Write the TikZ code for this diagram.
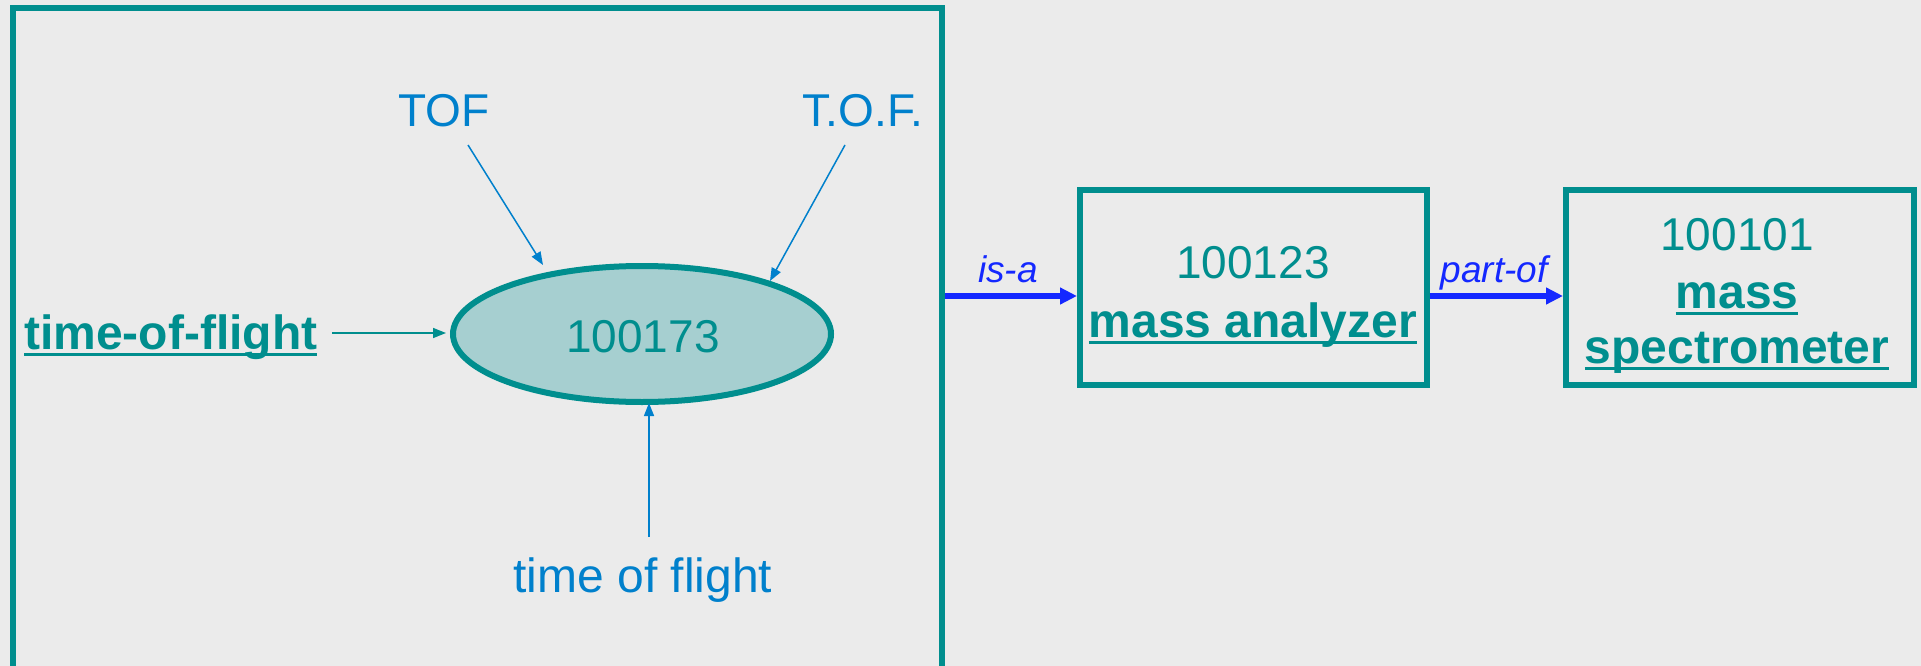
\documentclass[tikz,border=0pt]{standalone}
\usepackage{fontspec}
\setmainfont{Liberation Sans}
\usetikzlibrary{arrows.meta,shapes.geometric}

\definecolor{tealc}{RGB}{0,142,142}
\definecolor{cellfill}{RGB}{166,207,208}
\definecolor{synblue}{RGB}{0,128,204}
\definecolor{relblue}{RGB}{20,40,255}
\definecolor{bgc}{RGB}{235,235,235}

% underline sitting just under the baseline, crossing descenders
\newcommand\ulx[1]{\setbox0\hbox{#1}\rlap{\rule[-0.15em]{\wd0}{0.075em}}\box0}

\tikzset{
  big/.style={font=\fontsize{46}{52}\selectfont},
  term/.style={big, text=tealc, inner sep=0pt},
  prefterm/.style={font=\fontsize{48}{54}\selectfont\bfseries, text=tealc, inner sep=0pt},
  syn/.style={big, text=synblue, inner sep=0pt},
  rel/.style={font=\fontsize{37}{42}\selectfont\itshape, text=relblue, inner sep=0pt},
  framebox/.style={draw=tealc, line width=6pt},
  thin/.style={line width=1.5pt, -{Triangle[length=13pt,width=10pt]}},
  thick/.style={draw=relblue, line width=6pt, -{Triangle[length=17pt,width=16pt]}},
}

\begin{document}
\begin{tikzpicture}[x=1pt,y=-1pt]
  \fill[bgc] (0,0) rectangle (1921,666);
  \useasboundingbox (0,0) rectangle (1921,666);

  % outer frame grouping the synonyms (runs past the lower edge)
  \draw[framebox] (13,8) rectangle (942,700);

  % concept ellipse
  \node[ellipse, draw=tealc, fill=cellfill, line width=6pt,
        minimum width=378pt, minimum height=136pt, inner sep=0pt] (ell) at (642,334) {};
  \node[term, anchor=base] (id) at (643,352) {100173};

  % preferred term and synonyms
  \node[prefterm, anchor=base west] (pref) at (24,349) {\ulx{time-of-flight}};
  \node[syn, anchor=base] (tof) at (444,127) {TOF};
  \node[syn, anchor=base] (tofd) at (863,127) {T.O.F.};
  \node[syn, anchor=base, font=\fontsize{48}{54}\selectfont] (tofw) at (643,592) {time of flight};

  \coordinate (p0) at (332,333);  \coordinate (p1) at (446,333);
  \coordinate (t0) at (468,145);  \coordinate (t1) at (543,265);
  \coordinate (d0) at (845,145);  \coordinate (d1) at (770,281);
  \coordinate (w0) at (649,537);  \coordinate (w1) at (649,403);

  \draw[thin, tealc] (p0) -- (p1);
  \draw[thin, synblue] (t0) -- (t1);
  \draw[thin, synblue] (d0) -- (d1);
  \draw[thin, synblue] (w0) -- (w1);

  % related concepts
  \node[framebox, minimum width=347pt, minimum height=195pt, inner sep=0pt] (ana) at (1253.5,287.5) {};
  \node[term, anchor=base] (anaid) at (1253,278) {100123};
  \node[prefterm, anchor=base] (anan) at (1253,337) {\ulx{mass analyzer}};

  \node[framebox, minimum width=348pt, minimum height=195pt, inner sep=0pt] (spec) at (1740,287.5) {};
  \node[term, anchor=base] (specid) at (1737,250) {100101};
  \node[prefterm, anchor=base] (specn1) at (1737,308) {\ulx{mass}};
  \node[prefterm, anchor=base] (specn2) at (1737,363) {\ulx{spectrometer}};

  % relations
  \coordinate (isa0) at (945,296);
  \draw[thick] (isa0) -- (ana.west |- isa0);
  \node[rel, anchor=base] (isa) at (1008,282) {is-a};

  \draw[thick] (ana.east |- isa0) -- (spec.west |- isa0);
  \node[rel, anchor=base] (partof) at (1494,282) {part-of};
\end{tikzpicture}
\end{document}
